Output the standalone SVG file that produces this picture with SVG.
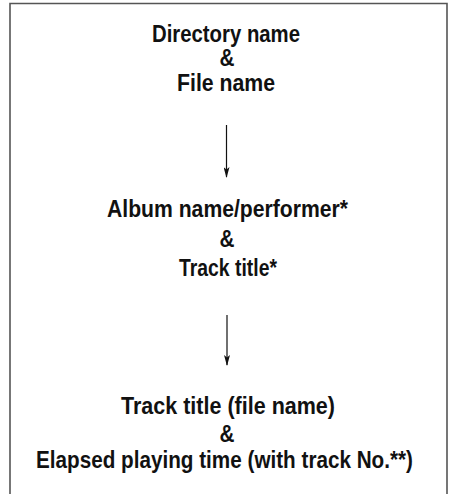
<svg xmlns="http://www.w3.org/2000/svg" width="450" height="494" viewBox="0 0 450 494">
<style>
.t{font-family:"Liberation Sans",Arial,sans-serif;font-weight:bold;font-size:23.5px;fill:#111;text-anchor:middle}
.c{stroke:#111;stroke-width:1.2;fill:none}
</style>
<defs>
<marker id="ah" markerWidth="11" markerHeight="6" refX="10" refY="3" orient="auto" markerUnits="userSpaceOnUse" viewBox="0 0 11 6">
<path d="M0,0 L2.5,3 L0,6 L11,3 Z" fill="#111"/>
</marker>
</defs>
<rect width="450" height="494" fill="#fff"/>
<path d="M10,494 V3.5 H447 V494" fill="none" stroke="#555" stroke-width="1.6"/>
<g id="node1">
<text class="t" x="226" y="42" textLength="148" lengthAdjust="spacingAndGlyphs">Directory name</text>
<text class="t" x="227" y="66" textLength="15" lengthAdjust="spacingAndGlyphs">&amp;</text>
<text class="t" x="226" y="91" textLength="98" lengthAdjust="spacingAndGlyphs">File name</text>
</g>
<g id="node2">
<text class="t" x="227.5" y="217" textLength="241" lengthAdjust="spacingAndGlyphs">Album name/performer*</text>
<text class="t" x="227" y="247" textLength="15" lengthAdjust="spacingAndGlyphs">&amp;</text>
<text class="t" x="228" y="276" textLength="98" lengthAdjust="spacingAndGlyphs">Track title*</text>
</g>
<g id="node3">
<text class="t" x="228" y="414" textLength="214" lengthAdjust="spacingAndGlyphs">Track title (file name)</text>
<text class="t" x="227" y="442" textLength="15" lengthAdjust="spacingAndGlyphs">&amp;</text>
<text class="t" x="224.5" y="468" textLength="377" lengthAdjust="spacingAndGlyphs">Elapsed playing time (with track No.**)</text>
</g>
<g id="connectors">
<line class="c" x1="226.5" y1="125" x2="226.5" y2="177" marker-end="url(#ah)"/>
<line class="c" x1="227" y1="315" x2="227" y2="365" marker-end="url(#ah)"/>
</g>
</svg>
